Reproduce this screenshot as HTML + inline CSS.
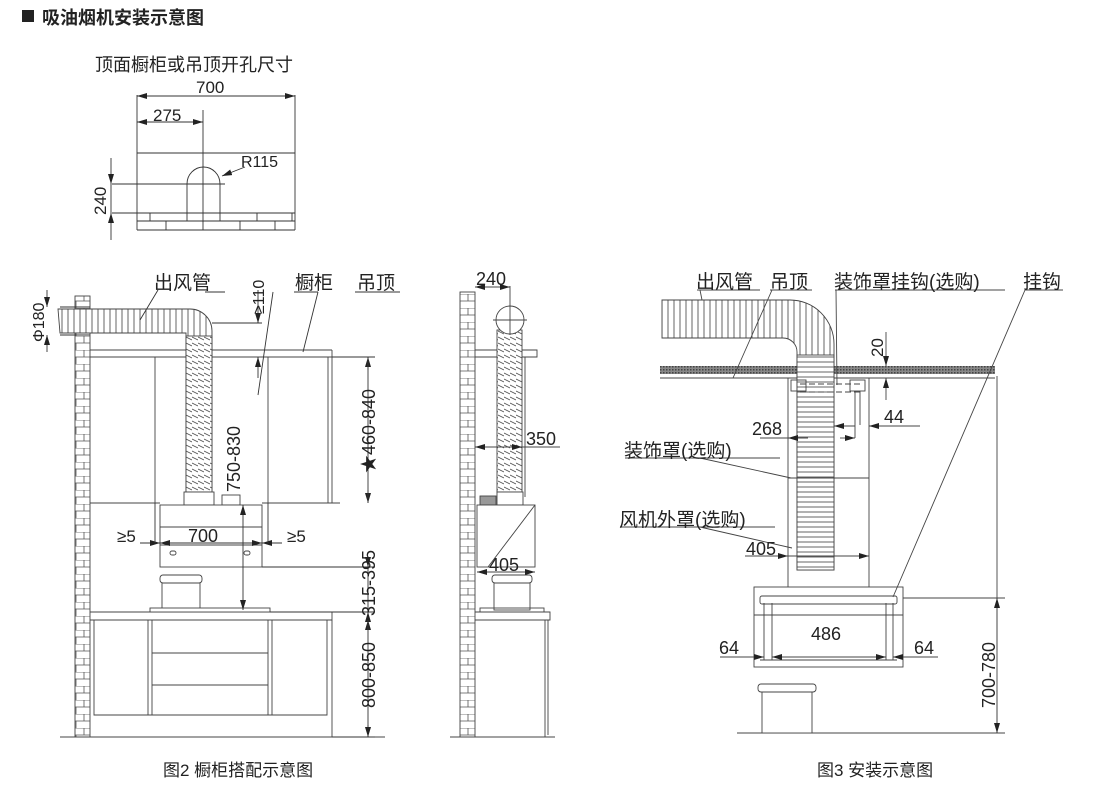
<!DOCTYPE html>
<html><head><meta charset="utf-8"><style>
html,body{margin:0;padding:0;background:#fff;width:1100px;height:790px;overflow:hidden}
svg{display:block}
text{font-family:"Liberation Sans","Noto Sans CJK SC",sans-serif;fill:#222}
</style></head><body>
<svg width="1100" height="790" viewBox="0 0 1100 790" xmlns="http://www.w3.org/2000/svg">
<defs>
<pattern id="brick" width="16" height="14" patternUnits="userSpaceOnUse">
<rect width="16" height="14" fill="#fff"/>
<path d="M0 0H16M0 7H16M4 0V7M12 7V14" stroke="#555" stroke-width="0.8" fill="none"/>
</pattern>
<pattern id="hs" width="6" height="5" patternUnits="userSpaceOnUse">
<rect width="6" height="5" fill="#fff"/><path d="M0 2H6" stroke="#555" stroke-width="0.9"/>
</pattern>
<pattern id="ds" width="6" height="6" patternUnits="userSpaceOnUse">
<rect width="6" height="6" fill="#fff"/><path d="M0 1L6 4" stroke="#555" stroke-width="0.9"/>
</pattern>
<pattern id="vs" width="6" height="6" patternUnits="userSpaceOnUse">
<rect width="6" height="6" fill="#fff"/><path d="M2 0V6" stroke="#555" stroke-width="0.9"/>
</pattern>
<pattern id="hatch" width="3" height="3" patternUnits="userSpaceOnUse">
<rect width="3" height="3" fill="#888"/><rect width="1.5" height="1.5" fill="#444"/>
</pattern>
<marker id="a" viewBox="0 0 10 6" refX="10" refY="3" markerWidth="10" markerHeight="6" orient="auto-start-reverse" markerUnits="userSpaceOnUse"><path d="M0 0L10 3L0 6Z" fill="#222"/></marker>
</defs>

<rect x="22" y="10" width="12" height="12" fill="#222"/>
<text x="42" y="24" font-size="18" font-weight="bold">吸油烟机安装示意图</text>

<text x="95" y="71" font-size="18">顶面橱柜或吊顶开孔尺寸</text>
<g stroke="#333" stroke-width="0.9" fill="none">
<line x1="137" y1="95" x2="137" y2="230"/><line x1="295" y1="95" x2="295" y2="230"/>
<line x1="137" y1="153" x2="295" y2="153"/>
<line x1="137" y1="230" x2="295" y2="230"/>
<line x1="137" y1="213" x2="295" y2="213"/><line x1="137" y1="221" x2="295" y2="221"/>
<path d="M150 213V221M187 213V221M220 213V221M257 213V221M292 213V221M166 221V230M203 221V230M240 221V230M275 221V230"/>
<path d="M187 213V184A16.5 17 0 0 1 220 184V213"/>
<line x1="203" y1="110" x2="203" y2="222"/>
<line x1="112" y1="184" x2="225" y2="184"/>
<line x1="112" y1="213" x2="137" y2="213"/>
<line x1="137" y1="96" x2="295" y2="96" marker-start="url(#a)" marker-end="url(#a)"/>
<line x1="137" y1="122" x2="203" y2="122" marker-start="url(#a)" marker-end="url(#a)"/>
<line x1="111" y1="158" x2="111" y2="184" marker-end="url(#a)"/>
<line x1="111" y1="240" x2="111" y2="213" marker-end="url(#a)"/>
<line x1="111" y1="184" x2="111" y2="213"/>
<line x1="245" y1="167" x2="222" y2="176" marker-end="url(#a)"/>
</g>
<text x="196" y="93" font-size="17">700</text>
<text x="153" y="121" font-size="17">275</text>
<text x="241" y="167" font-size="16">R115</text>
<text transform="translate(106,215) rotate(-90)" font-size="17">240</text>

<!-- FIG 2 -->
<rect x="75" y="296" width="15" height="441" fill="url(#brick)" stroke="#444" stroke-width="0.9"/>
<g stroke="#444" stroke-width="0.9" fill="none">
<path d="M90 350H332M90 357H332M332 350V503M155 357V503M268 357V503M328 357V503"/>
<path d="M90 503H160M262 503H340"/>
<path d="M90 612H332V620H90M94 620V715H327V620M148 620V715M152 620V715M268 620V715M272 620V715M152 653H268M152 685H268"/>
<line x1="60" y1="737" x2="385" y2="737"/>
<line x1="332" y1="620" x2="332" y2="737"/>
</g>
<path d="M58 309H190A22 22 0 0 1 212 331V492H186V333H60Z" fill="url(#vs)" stroke="#444" stroke-width="0.9"/>
<rect x="186" y="336" width="26" height="156" fill="url(#ds)" stroke="#444" stroke-width="0.9"/>
<rect x="184" y="492" width="30" height="13" fill="#fff" stroke="#444" stroke-width="0.9"/>
<rect x="222" y="495" width="18" height="10" fill="#fff" stroke="#444" stroke-width="0.9"/>
<g stroke="#444" stroke-width="0.9" fill="#fff">
<rect x="160" y="505" width="102" height="62"/>
<path d="M160 527H262M160 545H262" fill="none"/>
<rect x="170" y="551" width="6" height="4" rx="2"/><rect x="244" y="551" width="6" height="4" rx="2"/>
<rect x="162" y="582" width="38" height="28"/><rect x="160" y="575" width="42" height="8" rx="3"/>
<rect x="150" y="608" width="120" height="4"/>
</g>
<g stroke="#333" stroke-width="0.9" fill="none">
<path d="M60 307H90M60 335H90"/>
<line x1="47" y1="290" x2="47" y2="307" marker-end="url(#a)"/>
<line x1="47" y1="352" x2="47" y2="335" marker-end="url(#a)"/>
<path d="M212 323H262"/>
<line x1="258" y1="290" x2="258" y2="323" marker-end="url(#a)"/>
<line x1="258" y1="378" x2="258" y2="357" marker-end="url(#a)"/>
<path d="M332 357H375M262 567H375M270 612H375M332 737H375"/>
<line x1="368" y1="370" x2="368" y2="357" marker-end="url(#a)"/>
<line x1="368" y1="490" x2="368" y2="503" marker-end="url(#a)"/>
<line x1="368" y1="357" x2="368" y2="503"/>
<line x1="368" y1="560" x2="368" y2="567" marker-end="url(#a)"/>
<line x1="368" y1="567" x2="368" y2="612"/>
<line x1="368" y1="620" x2="368" y2="612" marker-end="url(#a)"/>
<line x1="368" y1="630" x2="368" y2="620" marker-end="url(#a)"/>
<line x1="368" y1="620" x2="368" y2="737"/>
<line x1="368" y1="725" x2="368" y2="737" marker-end="url(#a)"/>
<line x1="243" y1="505" x2="243" y2="610" marker-start="url(#a)" marker-end="url(#a)"/>
<line x1="140" y1="543" x2="160" y2="543" marker-end="url(#a)"/>
<line x1="160" y1="543" x2="262" y2="543" marker-start="url(#a)" marker-end="url(#a)"/>
<line x1="282" y1="543" x2="262" y2="543" marker-end="url(#a)"/>
<path d="M155 503V543M268 503V543"/>
<path d="M158 290L140 320M205 292H225M273 292L258 395M294 292H318M318 292L303 352M355 292H400"/>
</g>
<text x="154" y="289" font-size="19">出风管</text>
<text x="295" y="289" font-size="19">橱柜</text>
<text x="357" y="289" font-size="19">吊顶</text>
<text transform="translate(264,314) rotate(-90)" font-size="16">≥110</text>
<text transform="translate(44,342) rotate(-90)" font-size="16">Φ180</text>
<text transform="translate(375,473) rotate(-90)" font-size="18">★460-840</text>
<text transform="translate(240,492) rotate(-90)" font-size="18">750-830</text>
<text transform="translate(375,616) rotate(-90)" font-size="18">315-395</text>
<text transform="translate(375,708) rotate(-90)" font-size="18">800-850</text>
<text x="117" y="542" font-size="17">≥5</text>
<text x="188" y="542" font-size="18">700</text>
<text x="287" y="542" font-size="17">≥5</text>
<text x="163" y="776" font-size="17">图2 橱柜搭配示意图</text>

<!-- FIG 2 side -->
<rect x="460" y="292" width="15" height="445" fill="url(#brick)" stroke="#444" stroke-width="0.9"/>
<g stroke="#444" stroke-width="0.9" fill="none">
<path d="M475 350H537V357H475M525 357V497"/>
<rect x="497" y="330" width="25" height="162" fill="url(#ds)"/>
<circle cx="510" cy="320" r="14" fill="#fff"/>
<path d="M493 320H527M510 286V335"/>
<rect x="497" y="492" width="26" height="13" fill="#fff"/>
<rect x="480" y="496" width="16" height="9" fill="#999"/>
<rect x="477" y="505" width="58" height="62" fill="#fff"/>
<path d="M535 505L488 567"/>
<rect x="494" y="582" width="36" height="28" fill="#fff"/><rect x="492" y="575" width="40" height="8" rx="3" fill="#fff"/>
<rect x="480" y="608" width="64" height="4"/>
<path d="M475 612H550V620H475M545 620V737M548 620V735"/>
<line x1="450" y1="737" x2="555" y2="737"/>
<line x1="475" y1="447" x2="497" y2="447" marker-start="url(#a)"/>
<line x1="497" y1="447" x2="522" y2="447" marker-end="url(#a)"/>
<path d="M522 447H560"/>
<line x1="475" y1="287" x2="510" y2="287" marker-start="url(#a)" marker-end="url(#a)"/>
<line x1="477" y1="572" x2="535" y2="572" marker-start="url(#a)" marker-end="url(#a)"/>
</g>
<text x="476" y="285" font-size="18">240</text>
<text x="526" y="445" font-size="18">350</text>
<text x="489" y="571" font-size="18">405</text>

<!-- FIG 3 -->
<rect x="660" y="366" width="335" height="8" fill="url(#hatch)"/>
<line x1="660" y1="378" x2="995" y2="378" stroke="#444" stroke-width="0.9"/>
<path d="M662 300H790A44 44 0 0 1 834 344V570H797V352A14 14 0 0 0 783 338H662Z" fill="url(#vs)" stroke="#444" stroke-width="0.9"/>
<rect x="797" y="355" width="37" height="215" fill="url(#hs)" stroke="#444" stroke-width="0.9"/>
<g stroke="#444" stroke-width="0.9" fill="none">
<path d="M788 378V587M869 378V587M788 478H869"/>
<rect x="791" y="380" width="15" height="11"/><rect x="850" y="380" width="15" height="11"/>
<path d="M800 384H860M800 392H860" stroke-dasharray="6 3"/>
<path d="M855 391V438M860 391V425"/>
<rect x="754" y="587" width="149" height="80" fill="#fff"/>
<path d="M754 615H903M760 660H897"/>
<rect x="760" y="596" width="137" height="8" rx="2"/>
<path d="M764 603V660M772 603V660M886 603V660M893 603V660"/>
<line x1="737" y1="733" x2="918" y2="733"/>
<rect x="762" y="690" width="50" height="43" fill="#fff"/><rect x="758" y="684" width="58" height="8" rx="3" fill="#fff"/>
<path d="M997 376V733M903 598H1005M918 733H1005"/>
<line x1="997" y1="650" x2="997" y2="598" marker-end="url(#a)"/>
<line x1="997" y1="690" x2="997" y2="733" marker-end="url(#a)"/>
<line x1="886" y1="332" x2="886" y2="366" marker-end="url(#a)"/>
<line x1="886" y1="400" x2="886" y2="378" marker-end="url(#a)"/>
<path d="M869 378H890M869 426H920"/>
<line x1="855" y1="426" x2="834" y2="426" marker-end="url(#a)"/>
<line x1="893" y1="426" x2="869" y2="426" marker-end="url(#a)"/>
<line x1="760" y1="438" x2="797" y2="438"/>
<line x1="808" y1="438" x2="788" y2="438" marker-end="url(#a)"/>
<line x1="840" y1="438" x2="855" y2="438" marker-end="url(#a)"/>
<line x1="745" y1="556" x2="788" y2="556" marker-end="url(#a)"/>
<line x1="788" y1="556" x2="869" y2="556" marker-end="url(#a)"/>
<line x1="720" y1="657" x2="764" y2="657" marker-end="url(#a)"/>
<line x1="772" y1="657" x2="886" y2="657" marker-start="url(#a)" marker-end="url(#a)"/>
<line x1="938" y1="657" x2="893" y2="657" marker-end="url(#a)"/>
<path d="M697 290H760M700 290L702 300M770 290H812M772 290L733 378M835 290H1005M836 290L837 385M1025 290H1063M1025 290L893 597"/>
<path d="M625 458H780M700 458L791 478M620 527H775M700 527L792 548"/>
</g>
<text x="696" y="288" font-size="19">出风管</text>
<text x="770" y="288" font-size="19">吊顶</text>
<text x="834" y="288" font-size="19">装饰罩挂钩(选购)</text>
<text x="1023" y="288" font-size="19">挂钩</text>
<text transform="translate(883,357) rotate(-90)" font-size="17">20</text>
<text x="884" y="423" font-size="18">44</text>
<text x="752" y="435" font-size="18">268</text>
<text x="624" y="457" font-size="19">装饰罩(选购)</text>
<text x="619" y="526" font-size="19">风机外罩(选购)</text>
<text x="746" y="555" font-size="18">405</text>
<text x="811" y="640" font-size="18">486</text>
<text x="719" y="654" font-size="18">64</text>
<text x="914" y="654" font-size="18">64</text>
<text transform="translate(995,708) rotate(-90)" font-size="18">700-780</text>
<text x="817" y="776" font-size="17">图3 安装示意图</text>
</svg>
</body></html>
